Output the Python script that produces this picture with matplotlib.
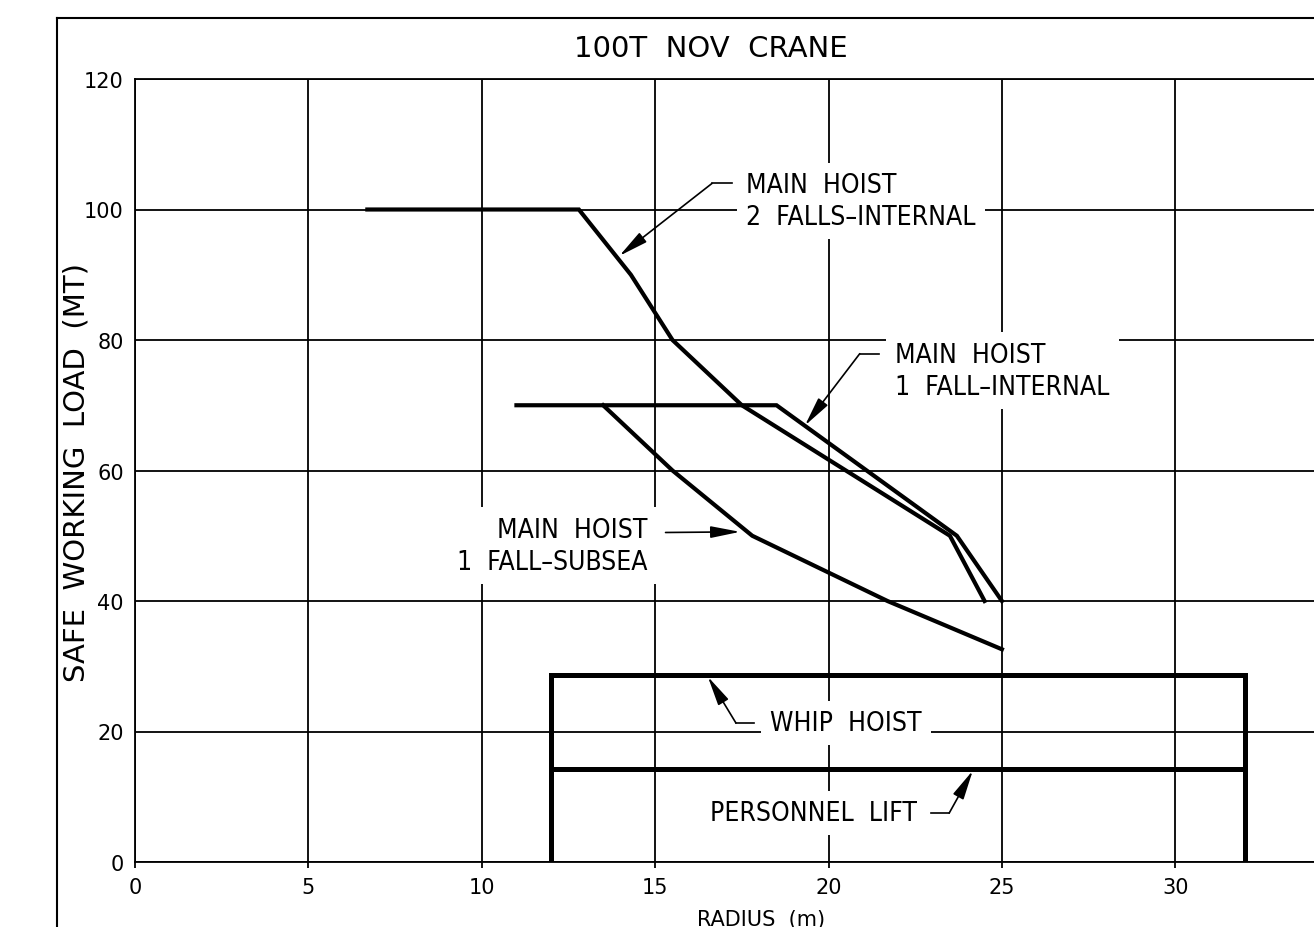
#!/usr/bin/env python3
"""100T NOV crane load chart (safe working load vs radius)."""
import matplotlib
matplotlib.use("Agg")
import matplotlib.pyplot as plt
from matplotlib.lines import Line2D

# load curves (radius m, SWL t)
mh2_r = [6.7, 12.8, 14.3, 15.5, 17.5, 23.5, 24.5]
mh2_t = [100, 100, 90, 80, 70, 50, 40]
mh1_r = [11.0, 18.5, 23.7, 25.0]
mh1_t = [70, 70, 50, 40]
sub_r = [13.5, 15.5, 17.8, 21.7, 25.0]
sub_t = [70, 60, 50, 40, 32.6]
whip_r = [12, 12, 32, 32]
whip_t = [0, 28.7, 28.7, 0]
pers_r = [12, 32]
pers_t = [14.3, 14.3]

x_ticks = [0, 5, 10, 15, 20, 25, 30]
y_ticks = [0, 20, 40, 60, 80, 100, 120]

W, H = 1314, 928
plt.rcParams.update({"font.family": "DejaVu Sans"})

fig = plt.figure(figsize=(W / 100, H / 100), dpi=100)
ax = fig.add_axes([135 / W, 65 / H, 1179 / W, 783 / H])
ax.set_xlim(0, 34.0)
ax.set_ylim(0, 120)

# grid + frame
glw = 1.3
ax.set_xticks(x_ticks); ax.set_yticks(y_ticks)
ax.grid(True, color="black", lw=glw)
ax.set_axisbelow(True)
for sp in ["left", "bottom", "top"]:
    ax.spines[sp].set_linewidth(glw)
ax.spines["right"].set_visible(False)
ax.tick_params(axis="x", length=4, width=glw, direction="out", pad=7, labelsize=15)
ax.tick_params(axis="y", length=0, pad=8, labelsize=15)

# curves
lw = 3.0
ax.plot(mh2_r, mh2_t, color="black", lw=lw, solid_joinstyle="miter", zorder=3)
ax.plot(mh1_r, mh1_t, color="black", lw=lw, solid_joinstyle="miter", zorder=3)
ax.plot(sub_r, sub_t, color="black", lw=lw, solid_joinstyle="miter", zorder=3)
ax.plot(whip_r, whip_t, color="black", lw=3.6, solid_joinstyle="miter", zorder=3)
ax.plot(pers_r, pers_t, color="black", lw=3.6, zorder=3)

# labels with leaders
box = dict(boxstyle="square,pad=0.35", fc="white", ec="none")
arr = dict(arrowstyle="-|>,head_length=0.9,head_width=0.18", color="black",
           lw=1.2, shrinkA=0, shrinkB=0, mutation_scale=20)


def label(txt, pos, ha, leader, tip):
    ax.text(pos[0], pos[1], txt, ha=ha, va="center", fontsize=19, fontstretch="condensed",
            linespacing=1.3, bbox=box, zorder=4)
    ax.plot([leader[0][0], leader[1][0]], [leader[0][1], leader[1][1]],
            color="black", lw=1.2, zorder=5)
    ax.annotate("", xy=tip, xytext=leader[1], arrowprops=arr, zorder=5)


label("MAIN  HOIST\n2  FALLS–INTERNAL", (17.62, 101.3), "left",
      [(17.21, 104.0), (16.64, 104.0)], (13.97, 92.9))
label("MAIN  HOIST\n1  FALL–INTERNAL", (21.92, 75.3), "left",
      [(21.46, 77.9), (20.9, 77.9)], (19.32, 66.9))
label("MAIN  HOIST\n1  FALL–SUBSEA", (14.77, 48.5), "right",
      [(15.3, 50.5), (15.3, 50.5)], (17.45, 50.6))
label("WHIP  HOIST", (18.32, 21.3), "left",
      [(17.85, 21.3), (17.33, 21.3)], (16.52, 28.4))
label("PERSONNEL  LIFT", (16.58, 7.5), "left",
      [(22.96, 7.5), (23.48, 7.5)], (24.16, 14.0))

# axis titles
ax.set_xlabel("RADIUS  (m)", fontsize=15, va="center")
ax.xaxis.set_label_coords((761 - 135) / 1179, (863 - 920) / 783)
ax.set_ylabel("SAFE  WORKING  LOAD  (MT)", fontsize=21, va="center")
ax.yaxis.set_label_coords((77 - 135) / 1179, (863 - 473) / 783)
ax.text((711 - 135) / 1179, (863 - 49) / 783, "100T  NOV  CRANE", transform=ax.transAxes,
        ha="center", va="center", fontsize=21)

# outer drawing border (runs off the sheet right and bottom)
fig.add_artist(Line2D([57 / W, 57 / W], [0, 1 - 19 / H], color="black", lw=1.5,
                      transform=fig.transFigure))
fig.add_artist(Line2D([57 / W, 1], [1 - 19 / H, 1 - 19 / H], color="black", lw=1.5,
                      transform=fig.transFigure))

fig.savefig("out.png", dpi=100)
